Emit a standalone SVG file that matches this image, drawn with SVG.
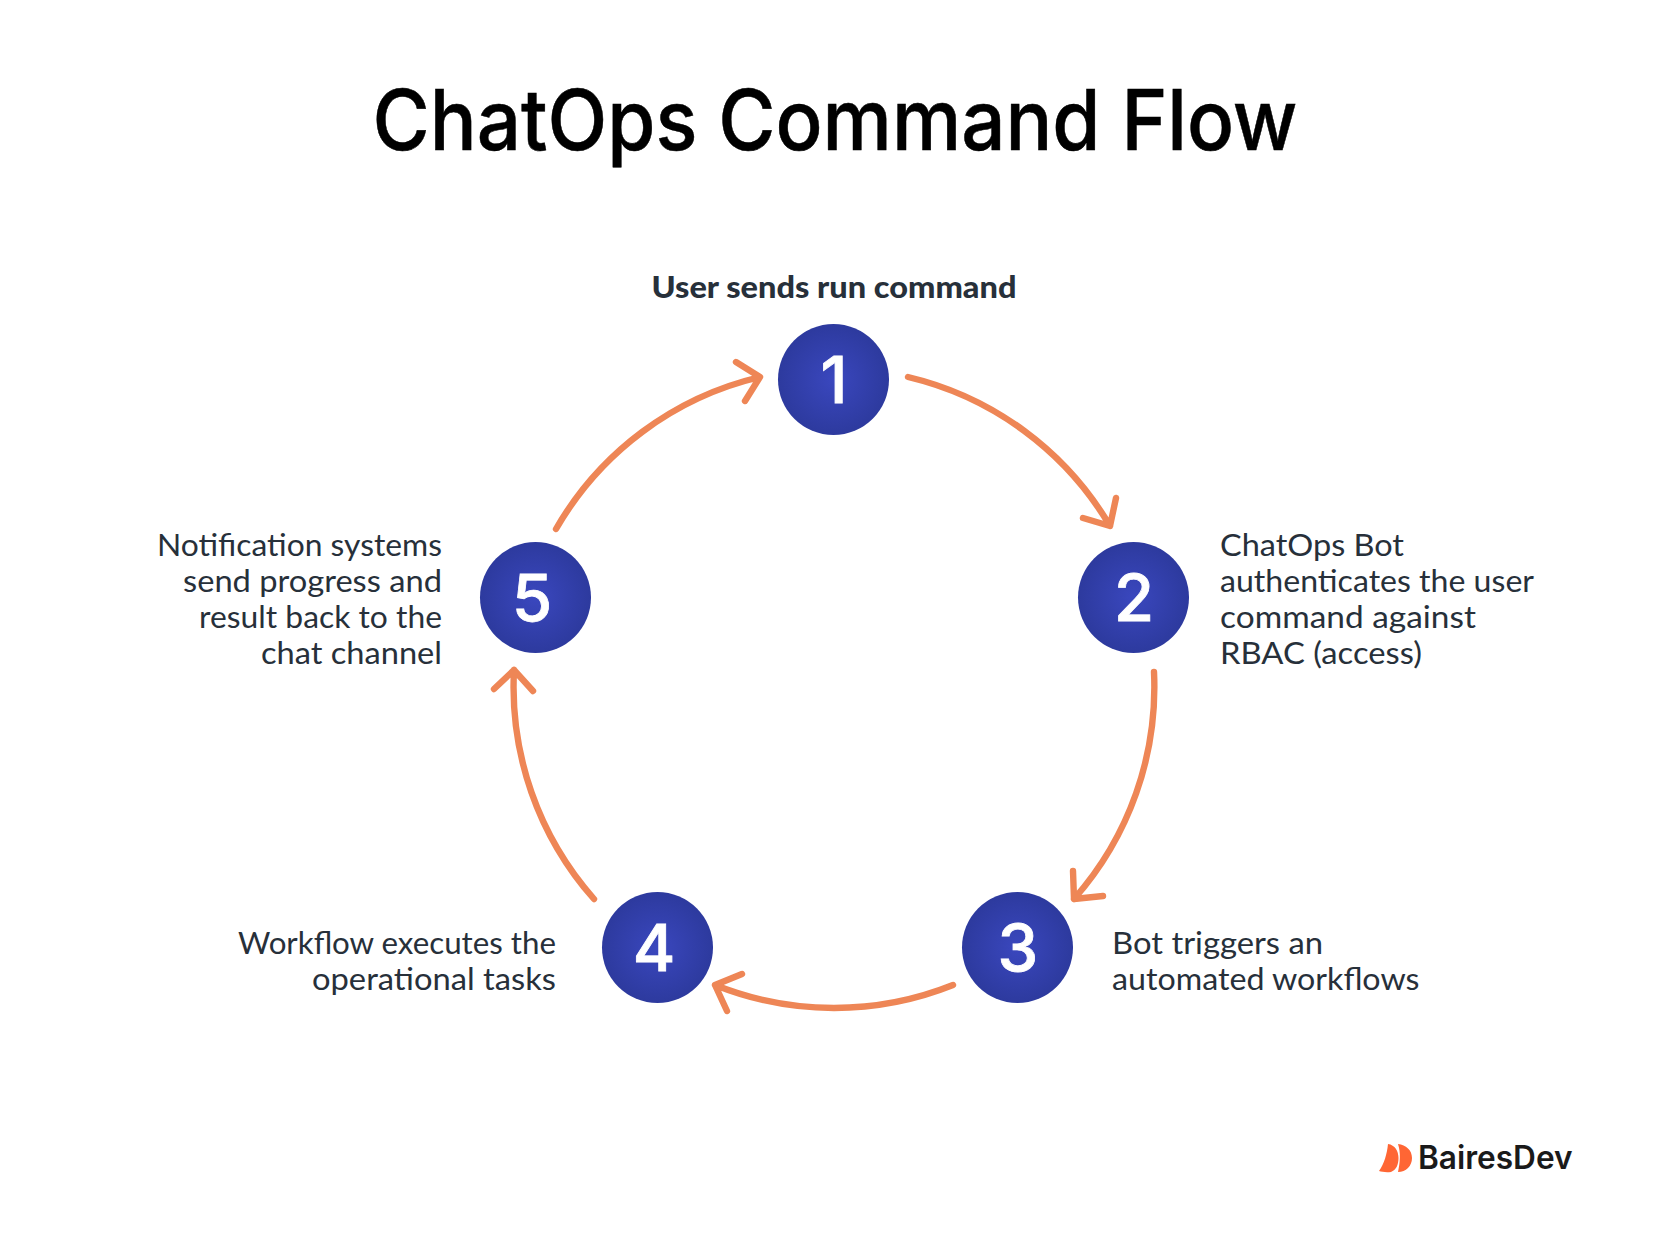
<svg xmlns="http://www.w3.org/2000/svg" width="1668" height="1237" viewBox="0 0 1668 1237">
<defs>
<radialGradient id="g"><stop offset="0" stop-color="#3A47BE"/><stop offset="1" stop-color="#2D3A9E"/></radialGradient>
<style>
.arc{fill:none;stroke:#EE8656;stroke-width:6.400;stroke-linecap:round;stroke-linejoin:round}
.b{fill:url(#g)}
.d{font:500 65px "Inter",sans-serif;fill:#fff;text-anchor:middle;stroke:#fff;stroke-width:.8}
.t{font:400 30px "Lato",sans-serif;fill:#27303A}
.h{font:900 30px "Lato",sans-serif;fill:#27303A}
</style>
</defs>
<rect width="1668" height="1237" fill="#fff"/>
<text id="title" x="372.500" y="150" font-family="Inter, sans-serif" font-weight="500" font-size="84" fill="#000" stroke="#000" stroke-width=".5" textLength="925" lengthAdjust="spacingAndGlyphs">ChatOps Command Flow</text>
<g id="connectors">
<path class="arc" d="M908 377A320 320 0 0 1 1110 526M1116 498L1110 526L1083 518"/>
<path class="arc" d="M1154 672A320 320 0 0 1 1074 899M1073 871L1074 899L1103 896"/>
<path class="arc" d="M953 985A320 320 0 0 1 715 985M742 974L715 985L727 1011"/>
<path class="arc" d="M594 899A320 320 0 0 1 514 670M494 689L514 670L533 691"/>
<path class="arc" d="M556 529A320 320 0 0 1 760 377M736 362L760 377L745 401"/>
</g>
<g id="node1"><circle class="b" cx="833.500" cy="379.500" r="55.500"/><text class="d" x="834" y="403">1</text>
<text class="h" x="651.500" y="298" textLength="365" lengthAdjust="spacingAndGlyphs">User sends run command</text></g>
<g id="node2"><circle class="b" cx="1133.500" cy="597.500" r="55.500"/><text class="d" x="1134" y="621">2</text>
<text class="t" x="1220" y="556" textLength="184" lengthAdjust="spacingAndGlyphs">ChatOps Bot</text>
<text class="t" x="1220" y="592" textLength="314" lengthAdjust="spacingAndGlyphs">authenticates the user</text>
<text class="t" x="1220" y="628" textLength="256" lengthAdjust="spacingAndGlyphs">command against</text>
<text class="t" x="1220" y="664" textLength="202" lengthAdjust="spacingAndGlyphs">RBAC (access)</text></g>
<g id="node3"><circle class="b" cx="1017.500" cy="947.500" r="55.500"/><text class="d" x="1018" y="971">3</text>
<text class="t" x="1112" y="954" textLength="211" lengthAdjust="spacingAndGlyphs">Bot triggers an</text>
<text class="t" x="1112" y="990" textLength="307.500" lengthAdjust="spacingAndGlyphs">automated workflows</text></g>
<g id="node4"><circle class="b" cx="657.500" cy="947.500" r="55.500"/><text class="d" x="654" y="971">4</text>
<text class="t" x="238" y="954" textLength="318" lengthAdjust="spacingAndGlyphs">Workflow executes the</text>
<text class="t" x="312" y="990" textLength="244" lengthAdjust="spacingAndGlyphs">operational tasks</text></g>
<g id="node5"><circle class="b" cx="535.500" cy="597.500" r="55.500"/><text class="d" x="532" y="621">5</text>
<text class="t" x="157" y="556" textLength="285" lengthAdjust="spacingAndGlyphs">Notification systems</text>
<text class="t" x="183" y="592" textLength="259" lengthAdjust="spacingAndGlyphs">send progress and</text>
<text class="t" x="199" y="628" textLength="243" lengthAdjust="spacingAndGlyphs">result back to the</text>
<text class="t" x="261" y="664" textLength="181" lengthAdjust="spacingAndGlyphs">chat channel</text></g>
<g id="logo"><path fill="#FF6634" d="M1379 1171C1384 1164 1387 1154 1388 1144C1395 1145 1398.500 1151 1398.500 1158C1398.500 1165 1396 1170 1391 1172C1386 1172.500 1382 1172 1379 1171Z"/><path fill="#FF6634" d="M1398 1144C1406 1145 1412 1150 1412 1158C1412 1166 1406 1172 1398 1172C1400 1163 1401 1153 1398 1144Z"/>
<text x="1418" y="1169" font-family="Inter, sans-serif" font-weight="600" font-size="32" fill="#1A1A1A" textLength="154.500" lengthAdjust="spacingAndGlyphs">BairesDev</text></g>
</svg>
